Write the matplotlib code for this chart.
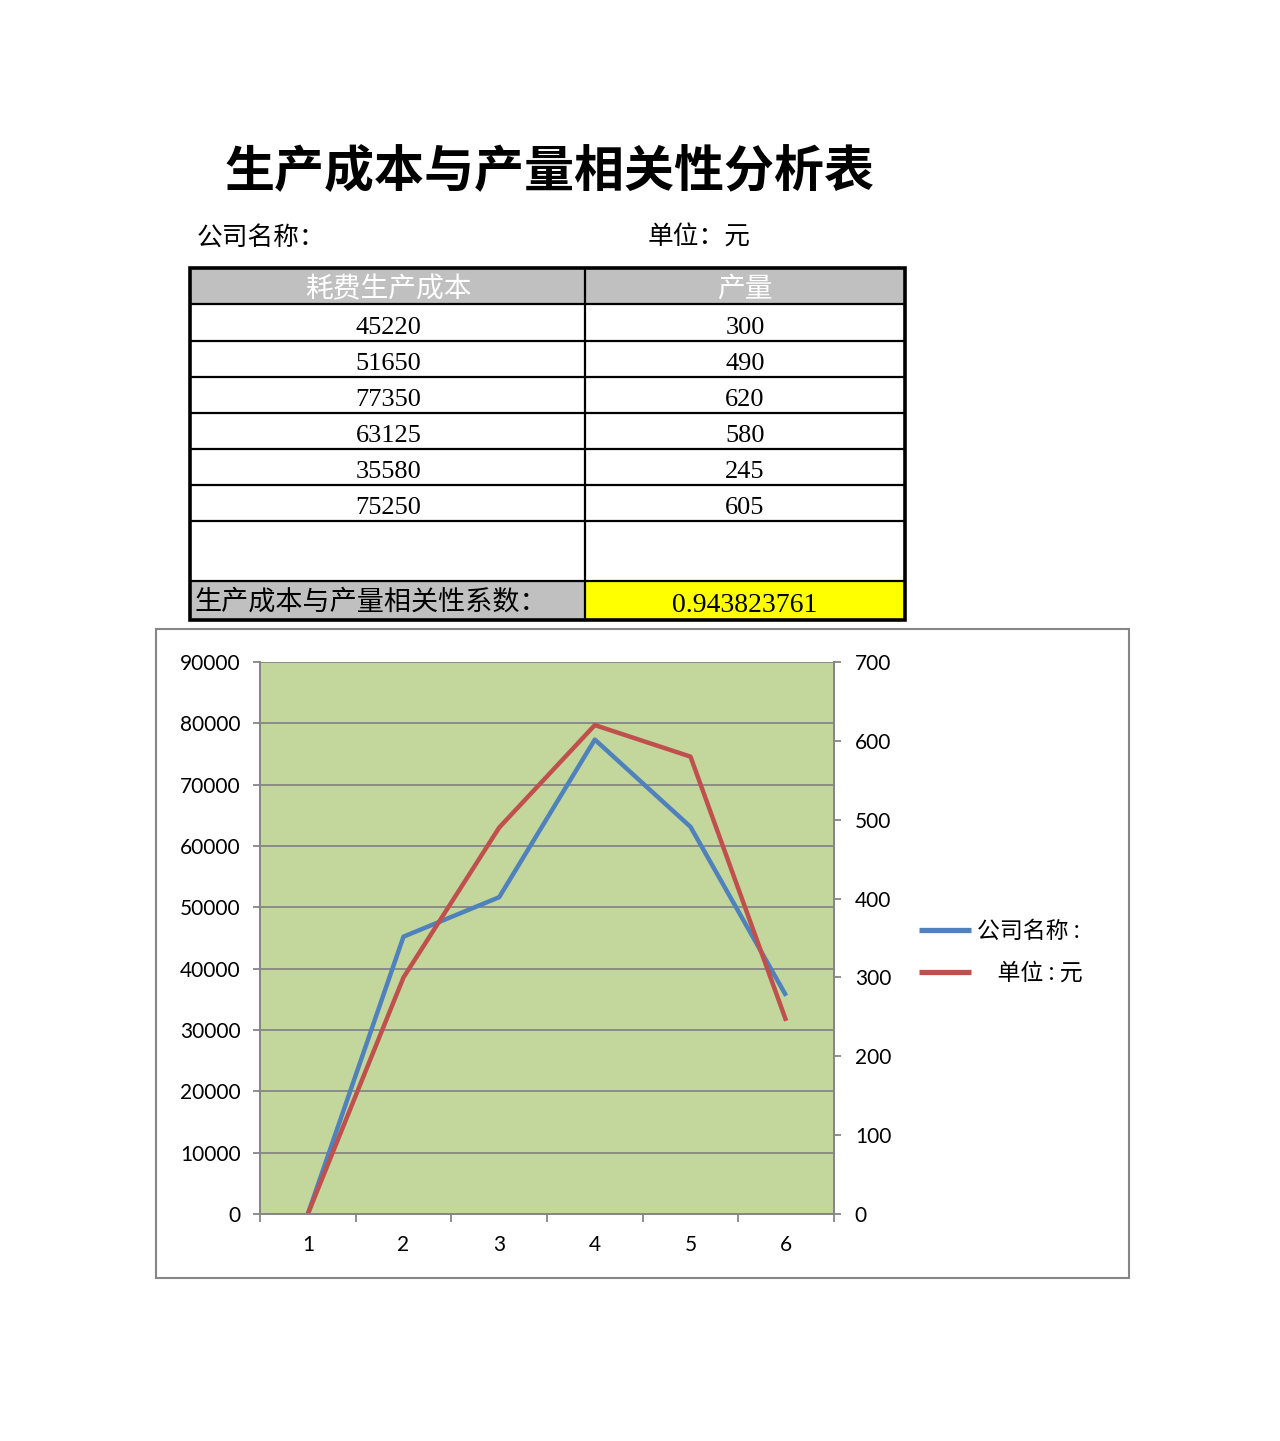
import matplotlib
matplotlib.use("Agg")
import matplotlib.pyplot as plt
from matplotlib.patches import Rectangle
from matplotlib.ticker import FixedLocator, NullFormatter

plt.rcParams['font.family'] = ['Noto Sans CJK SC', 'DejaVu Sans']

# ---- data ----
title = "生产成本与产量相关性分析表"
company_label = "公司名称："
unit_label = "单位：元"
col_headers = ["耗费生产成本", "产量"]
cost_values = [45220, 51650, 77350, 63125, 35580, 75250]
output_values = [300, 490, 620, 580, 245, 605]
coef_label = "生产成本与产量相关性系数："
coef_value = "0.943823761"

categories = [1, 2, 3, 4, 5, 6]
series_cost = [0, 45220, 51650, 77350, 63125, 35580]
series_output = [0, 300, 490, 620, 580, 245]
legend_labels = ["公司名称 :", "    单位 : 元"]
left_ticks = [0, 10000, 20000, 30000, 40000, 50000, 60000, 70000, 80000, 90000]
right_ticks = [0, 100, 200, 300, 400, 500, 600, 700]

W, H = 1280, 1441
fig = plt.figure(figsize=(W / 100, H / 100), dpi=100)

# overlay axes in pixel coordinates for the spreadsheet part
ov = fig.add_axes([0, 0, 1, 1])
ov.set_xlim(0, W)
ov.set_ylim(H, 0)
ov.axis('off')

ov.text(550, 172, title, fontsize=36, fontweight='bold', ha='center', va='center', color='black')
ov.text(197, 238, company_label, fontsize=18.5, ha='left', va='center')
ov.text(648, 238, unit_label, fontsize=18.5, ha='left', va='center')

xs = [190, 585, 905]
ys = [268, 304, 341, 377, 413, 449, 485, 521, 581, 620]
gray = '#C0C0C0'
# fills
ov.add_patch(Rectangle((xs[0], ys[0]), xs[2] - xs[0], ys[1] - ys[0], facecolor=gray, edgecolor='none'))
ov.add_patch(Rectangle((xs[0], ys[8]), xs[1] - xs[0], ys[9] - ys[8], facecolor=gray, edgecolor='none'))
ov.add_patch(Rectangle((xs[1], ys[8]), xs[2] - xs[1], ys[9] - ys[8], facecolor='#FFFF00', edgecolor='none'))
# inner lines
for y in ys[1:-1]:
    ov.plot([xs[0], xs[2]], [y, y], color='black', lw=1.6, solid_capstyle='butt')
ov.plot([xs[1], xs[1]], [ys[0], ys[-1]], color='black', lw=1.6)
# outer border
ov.add_patch(Rectangle((xs[0], ys[0]), xs[2] - xs[0], ys[-1] - ys[0], facecolor='none', edgecolor='black', lw=2.6))

cx = [(xs[0] + xs[1]) / 2 + 1, (xs[1] + xs[2]) / 2]
for i, h in enumerate(col_headers):
    ov.text(cx[i], 289, h, fontsize=20, color='white', ha='center', va='center')
serif = ['Liberation Serif', 'DejaVu Serif']
for r, (a, b) in enumerate(zip(cost_values, output_values)):
    yc = (ys[r + 1] + ys[r + 2]) / 2 + 5
    ov.text(cx[0], yc, str(a), fontsize=19, ha='center', va='center', family=serif)
    ov.text(cx[1], yc, str(b), fontsize=19, ha='center', va='center', family=serif)
ov.text(195, 602, coef_label, fontsize=19.5, ha='left', va='center')
ov.text(cx[1], 605, coef_value, fontsize=20, ha='center', va='center', family=serif)

# chart border
ov.add_patch(Rectangle((156, 629), 1129 - 156, 1278 - 629, facecolor='white', edgecolor='#868686', lw=1.5))

# ---- chart ----
L, R, T, B = 260, 834, 662, 1214
ax = fig.add_axes([L / W, 1 - B / H, (R - L) / W, (B - T) / H])
ax.set_facecolor('#C3D69B')
ax2 = ax.twinx()

l1, = ax.plot(categories, series_cost, color='#4F81BD', lw=3.2, solid_capstyle='butt')
l2, = ax2.plot(categories, series_output, color='#C0504D', lw=3.2, solid_capstyle='butt')

ax.set_xlim(0.5, 6.5)
ax.set_ylim(0, 90000)
ax2.set_ylim(0, 700)
ax.set_yticks(left_ticks)
ax.set_yticklabels([str(t) for t in left_ticks])
ax2.set_yticks(right_ticks)
ax2.set_yticklabels([str(t) for t in right_ticks])
ax.set_xticks(categories)
ax.set_xticklabels([str(c) for c in categories])
ax.xaxis.set_minor_locator(FixedLocator([0.5 + i for i in range(7)]))
ax.xaxis.set_minor_formatter(NullFormatter())

ax.grid(axis='y', color='#868686', lw=1.3)
ax.set_axisbelow(True)
for s in ['top']:
    ax.spines[s].set_visible(False)
    ax2.spines[s].set_visible(False)
for a in (ax, ax2):
    for s in ['left', 'right', 'bottom']:
        a.spines[s].set_color('#868686')
        a.spines[s].set_linewidth(1.3)

tickfont = ['Lato', 'DejaVu Sans']
ax.tick_params(axis='y', length=5, width=1.3, color='#868686', pad=9, labelsize=15)
ax2.tick_params(axis='y', length=5, width=1.3, color='#868686', pad=10, labelsize=15)
ax.tick_params(axis='x', which='major', length=0, pad=15, labelsize=15)
ax.tick_params(axis='x', which='minor', length=6, width=1.3, color='#868686')
for lab in ax.get_xticklabels() + ax.get_yticklabels() + ax2.get_yticklabels():
    lab.set_family(tickfont)

leg = fig.legend([l1, l2], legend_labels, loc='upper left', bbox_to_anchor=(898 / W, 1 - 899 / H),
                 frameon=False, fontsize=16.5, handlelength=2.3, handletextpad=0.25, labelspacing=0.85)
for h in leg.legend_handles:
    h.set_linewidth(3.8)

fig.savefig("out.png", dpi=100)
